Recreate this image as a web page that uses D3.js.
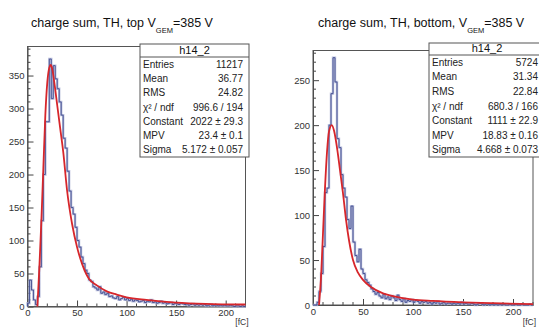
<!DOCTYPE html>
<html>
<head>
<meta charset="utf-8">
<script src="https://cdn.jsdelivr.net/npm/d3@7"></script>
<style>
  body { margin: 0; background: #fff; }
  svg { display: block; font-family: "Liberation Sans", Arial, Helvetica, sans-serif; }
</style>
</head>
<body>
<svg id="chart" width="539" height="327"></svg>
<script>
// histogram bin width in fC, bins start at 0
const binWidth = 2;

// top readout: counts per bin
const topCounts = [
  5, 40, 25, 10, 3, 15, 60, 130, 200, 280, 280, 375, 315, 365, 345, 330, 310, 290, 255, 240,
  205, 175, 150, 140, 120, 100, 90, 75, 65, 55, 50, 40, 38, 30, 28, 25, 30, 20, 22, 18,
  20, 15, 16, 13, 12, 15, 10, 12, 14, 10, 12, 9, 11, 8, 10, 9, 7, 8, 9, 6,
  8, 7, 10, 6, 7, 5, 6, 8, 5, 6, 4, 5, 6, 3, 5, 4, 3, 5, 4, 3,
  4, 2, 3, 4, 2, 3, 2, 3, 2, 3, 1, 2, 3, 1, 2, 2, 1, 2, 1, 2,
  1, 1, 2, 1, 0, 1, 1, 0, 1, 0
];

// bottom readout
const bottomCounts = [
  0, 0, 3, 15, 35, 65, 125, 130, 200, 235, 275, 248, 185, 175, 145, 130, 120, 95, 85, 110,
  70, 55, 48, 62, 40, 35, 28, 25, 22, 18, 15, 12, 14, 10, 8, 12, 7, 9, 6, 10,
  8, 5, 11, 6, 4, 7, 3, 5, 4, 6, 3, 5, 4, 2, 4, 3, 4, 2, 3, 1,
  3, 2, 4, 1, 2, 3, 1, 2, 2, 1, 2, 1, 2, 1, 3, 1, 2, 1, 1, 2,
  1, 0, 1, 2, 1, 0, 1, 1, 0, 1, 0, 1, 0, 1, 0, 1, 0, 0, 1, 0,
  0, 1, 0, 0, 1, 0, 0, 0, 1, 0
];

// Landau fit curves, [fC, counts]
const topFit = [
  [10, 0], [12, 60], [14, 130], [16, 210], [18, 290], [20, 340], [22, 362], [23.4, 366],
  [25, 360], [27, 340], [30, 305], [33, 270], [36, 235], [40, 175], [45, 125], [50, 90],
  [55, 65], [62, 42], [70, 32], [80, 23], [90, 18], [100, 14], [120, 10], [150, 6],
  [180, 4], [220, 3]
];
const bottomFit = [
  [6, 0], [8, 30], [10, 80], [12, 130], [14, 170], [16, 193], [18.8, 200], [21, 194],
  [24, 175], [27, 150], [30, 124], [33, 95], [36, 72], [40, 50], [45, 36], [50, 28],
  [58, 20], [70, 13], [80, 10], [100, 6], [120, 4.5], [150, 3], [180, 2], [220, 1]
];

// stats boxes
const statLabels = ["Entries", "Mean", "RMS", "χ² / ndf", "Constant", "MPV", "Sigma"];
const topStats = ["11217", "36.77", "24.82", "996.6 / 194", "2022 ± 29.3", "23.4 ± 0.1", "5.172 ± 0.057"];
const bottomStats = ["5724", "31.34", "22.84", "680.3 / 166", "1111 ± 22.9", "18.83 ± 0.16", "4.668 ± 0.073"];

const xMajorTicks = [0, 50, 100, 150, 200];
const topYTicks = [0, 50, 100, 150, 200, 250, 300, 350];
const bottomYTicks = [0, 50, 100, 150, 200, 250];

const svg = d3.select("#chart");

function drawPanel(p) {
  const x = d3.scaleLinear().domain([0, 220]).range([p.left, p.right]);
  const y = d3.scaleLinear().domain([0, p.yMax]).range([p.bottom, p.top]);
  const g = svg.append("g");

  // minor ticks every 10
  const xMinor = d3.range(0, 221, 10).filter(v => v % 50 !== 0);
  const yMinor = d3.range(0, p.yMax, 10).filter(v => v % 50 !== 0);

  const xAxis = g.append("g")
    .attr("transform", `translate(0,${p.bottom})`)
    .call(d3.axisBottom(x).tickValues(xMajorTicks).tickSizeInner(-6).tickSizeOuter(0).tickPadding(3));
  xAxis.append("g").selectAll("line").data(xMinor).join("line")
    .attr("x1", d => x(d)).attr("x2", d => x(d))
    .attr("y1", 0).attr("y2", -3)
    .attr("stroke", "#444");

  const yAxis = g.append("g")
    .attr("transform", `translate(${p.left},0)`)
    .call(d3.axisLeft(y).tickValues(p.yTicks).tickSizeInner(-6).tickSizeOuter(0).tickPadding(3));
  yAxis.append("g").selectAll("line").data(yMinor).join("line")
    .attr("x1", 0).attr("x2", 3)
    .attr("y1", d => y(d)).attr("y2", d => y(d))
    .attr("stroke", "#444");

  g.selectAll(".tick text").attr("font-size", 9.5).attr("fill", "#333")
    .attr("font-family", "'Liberation Sans', Arial, sans-serif");
  g.selectAll(".tick line").attr("stroke", "#444");
  g.selectAll(".domain").attr("stroke", "#444");

  // frame
  g.append("rect")
    .attr("x", p.left).attr("y", p.top)
    .attr("width", p.right - p.left).attr("height", p.bottom - p.top)
    .attr("fill", "none").attr("stroke", "#555").attr("stroke-width", 1);

  // histogram as step line, soft halo + darker line like the blurred original
  const pts = [[0, 0]];
  p.counts.forEach((c, i) => {
    pts.push([i * binWidth, c]);
    pts.push([(i + 1) * binWidth, c]);
  });
  pts.push([p.counts.length * binWidth, 0]);
  const step = d3.line().x(d => x(d[0])).y(d => y(d[1]));
  g.append("path").attr("d", step(pts))
    .attr("fill", "none").attr("stroke", "#a8aed2").attr("stroke-width", 2.4).attr("opacity", 0.8);
  g.append("path").attr("d", step(pts))
    .attr("fill", "none").attr("stroke", "#3f4b8f").attr("stroke-width", 0.9);

  // fit
  g.append("path")
    .attr("d", d3.line().curve(d3.curveMonotoneX).x(d => x(d[0])).y(d => y(d[1]))(p.fit))
    .attr("fill", "none").attr("stroke", "#d7262b").attr("stroke-width", 1.8);

  // title
  const t = svg.append("text").attr("x", p.titleX).attr("y", 27)
    .attr("font-size", 12.5).attr("fill", "#111");
  t.append("tspan").text(p.title);
  t.append("tspan").attr("dy", 6).attr("font-size", 7.5).text("GEM");
  t.append("tspan").attr("dy", -6).text("=385 V");

  // axis unit
  svg.append("text").attr("x", p.right + 3).attr("y", 325)
    .attr("text-anchor", "end").attr("font-size", 8.5).attr("fill", "#333").text("[fC]");

  // stats box
  const b = p.box;
  const rowH = (b.y1 - b.yh) / statLabels.length;
  svg.append("rect").attr("x", b.x0).attr("y", b.y0)
    .attr("width", b.x1 - b.x0).attr("height", b.y1 - b.y0)
    .attr("fill", "#fff").attr("stroke", "#555");
  svg.append("line").attr("x1", b.x0).attr("x2", b.x1).attr("y1", b.yh).attr("y2", b.yh)
    .attr("stroke", "#555");
  svg.append("text").attr("x", (b.x0 + b.x1) / 2).attr("y", b.yh - 3)
    .attr("text-anchor", "middle").attr("font-size", 11).attr("fill", "#111").text("h14_2");
  statLabels.forEach((lab, i) => {
    const yy = b.yh + rowH * (i + 0.5) + 3.5;
    svg.append("text").attr("x", b.x0 + 3).attr("y", yy)
      .attr("font-size", 10).attr("fill", "#222").text(lab);
    svg.append("text").attr("x", b.vx).attr("y", yy)
      .attr("text-anchor", "end").attr("font-size", 10).attr("fill", "#222").text(p.stats[i]);
  });
}

drawPanel({
  left: 27.5, right: 245.5, top: 46.5, bottom: 306.5, yMax: 394,
  yTicks: topYTicks, counts: topCounts, fit: topFit, stats: topStats,
  title: "charge sum, TH, top  V", titleX: 31,
  box: { x0: 140, x1: 249, y0: 44, yh: 57, y1: 157, vx: 243 }
});

drawPanel({
  left: 313, right: 533, top: 50.5, bottom: 305, yMax: 283,
  yTicks: bottomYTicks, counts: bottomCounts, fit: bottomFit, stats: bottomStats,
  title: "charge sum, TH, bottom, V", titleX: 318,
  box: { x0: 429, x1: 545, y0: 43, yh: 55, y1: 157, vx: 538 }
});
</script>
</body>
</html>
